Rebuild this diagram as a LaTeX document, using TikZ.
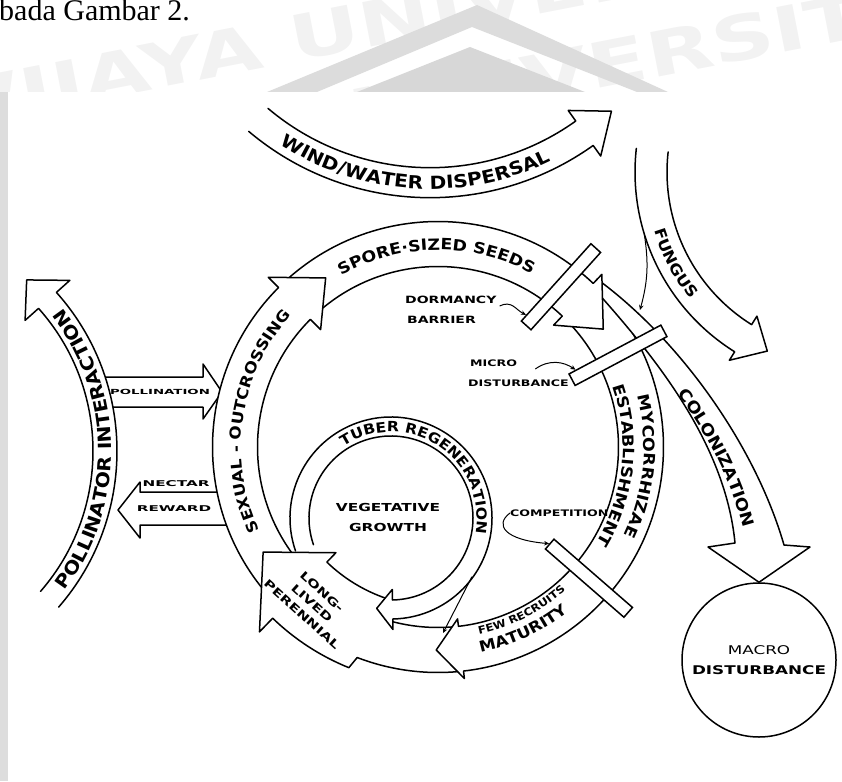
\documentclass[tikz,border=0pt]{standalone}
\usepackage{fontspec}
\setmainfont{Liberation Serif}
\newfontfamily\hand[FakeStretch=1.12]{DejaVu Sans}
\newfontfamily\handsm[FakeStretch=1.4]{DejaVu Sans}
\newfontfamily\handwide[FakeStretch=1.9]{DejaVu Sans}
\usepackage{tikz}
\usetikzlibrary{calc,arrows.meta,decorations.text}
\definecolor{chevc}{HTML}{DCDCDC}
\definecolor{chevd}{HTML}{D7D7D7}
\definecolor{stripc}{HTML}{DDDDDD}
\definecolor{wmarkc}{HTML}{F2F2F2}
\tikzset{
  bandline/.style={line width=1.5pt,line join=round,line cap=round},
  barrier/.style={draw,line width=1.5pt,fill=white,rectangle,minimum width=104pt,minimum height=13pt,inner sep=0pt},
  pointer/.style={-{Stealth[length=5pt,width=4.5pt]},line width=1pt},
  lbl/.style={inner sep=0pt,font=\handsm\bfseries\fontsize{10}{10}\selectfont},
  widelbl/.style={inner sep=0pt,font=\handwide\bfseries\fontsize{8}{8}\selectfont},
  wmark/.style={text=wmarkc,inner sep=0pt,font=\handsm\bfseries\fontsize{62}{62}\selectfont}
}
% curved band: centre, radius, half width, from, to
\newcommand{\bandshaft}[5]{%
  \fill[white] ([shift={(#1)}]#4:{#2+#3}) arc[start angle=#4,end angle=#5,radius={#2+#3}]
    -- ([shift={(#1)}]#5:{#2-#3}) arc[start angle=#5,end angle=#4,radius={#2-#3}] -- cycle;
  \draw[bandline] ([shift={(#1)}]#4:{#2+#3}) arc[start angle=#4,end angle=#5,radius={#2+#3}];
  \draw[bandline] ([shift={(#1)}]#4:{#2-#3}) arc[start angle=#4,end angle=#5,radius={#2-#3}];}
% head: centre, radius, half width, base, tip, head half width
\newcommand{\bandhead}[6]{%
  \filldraw[bandline,fill=white] ([shift={(#1)}]#4:{#2+#3}) -- ([shift={(#1)}]#4:{#2+#6})
    -- ([shift={(#1)}]#5:#2) -- ([shift={(#1)}]#4:{#2-#6}) -- ([shift={(#1)}]#4:{#2-#3});}
% lettering on an arc: centre, radius, from, to, size, text
\newcommand{\arctext}[6]{%
  \path[decorate,decoration={text along path,text align=center,
    text={|\hand\bfseries\fontsize{#5}{#5}\selectfont|#6}}]
    ([shift={(#1)}]#3:#2) arc[start angle=#3,end angle=#4,radius=#2];}

\begin{document}
\begin{tikzpicture}[x=1pt,y=1pt]
\useasboundingbox (0,0) rectangle (842,-781);
\begin{scope}
  \clip (0,0) rectangle (842,-92);
  \node[wmark,rotate=11] at (330,-38) {BRAWIJAYA UNIVERSITAS};
  \node[wmark,rotate=11] at (390,-112) {BRAWIJAYA UNIVERSITAS};
  \fill[chevc] (267,-92) -- (477,-5) -- (668,-92) -- (637,-92) -- (472,-27) -- (317,-92) -- cycle;
  \fill[chevd] (357,-92) -- (470,-47) -- (585,-92) -- cycle;
\end{scope}
\fill[stripc] (0,-92) rectangle (8,-781);
\node[anchor=base west,inner sep=0pt,font=\fontsize{30}{30}\selectfont] (caption) at (-1,-21) {bada Gambar 2.};

\coordinate (C) at (438,-447);
\coordinate (Cw) at (430,83.3);
\coordinate (Cp) at (-121,-451);
\coordinate (Cf) at (847,-172);
\coordinate (Ct) at (391,-518);

\node[circle,draw,line width=1.5pt,minimum size=154pt,inner sep=0pt,align=center,
  font=\handsm\fontsize{12}{20}\selectfont] (macro) at (759,-660) {MACRO\\\textbf{DISTURBANCE}};

% dispersal and fungus
\bandshaft{Cw}{266}{15}{229.8}{305.5}
\bandhead{Cw}{266}{15}{305.5}{313}{28}
\arctext{Cw}{272.5}{234}{299}{18}{WIND/WATER DISPERSAL}
\bandshaft{Cf}{196}{16}{173.6}{238}
\bandhead{Cf}{196}{16}{238}{246}{26}
\arctext{Cf}{201.5}{196}{220}{15}{FUNGUS}

% pollinator side
\filldraw[bandline,fill=white] (100,-377) -- (203,-377) -- (203,-364) -- (222,-392) -- (203,-419) -- (203,-407) -- (100,-407);
\filldraw[bandline,fill=white] (232,-492) -- (140,-492) -- (140,-482) -- (118,-510) -- (140,-538) -- (140,-525) -- (232,-525);
\node[widelbl,font=\handwide\bfseries\fontsize{7}{7}\selectfont] (polltxt) at (160,-392) {POLLINATION};
\node[widelbl] (nectxt) at (176,-484) {NECTAR};
\node[widelbl] (rewtxt) at (174,-509) {REWARD};
\bandshaft{Cp}{226}{12}{-41}{41.8}
\bandhead{Cp}{226}{12}{41.8}{49.2}{30}
\arctext{Cp}{232.5}{-39}{40}{18}{POLLINATOR INTERACTION}

% life cycle ring
\bandshaft{C}{203}{22.5}{44.5}{-83.5}
\bandshaft{C}{203}{22.5}{133}{46.5}
\bandshaft{C}{203}{22.5}{222}{135}
\fill[white] ([shift={(C)}]275.5:225.5) arc[start angle=275.5,end angle=249,radius=225.5]
  -- ([shift={(C)}]248:238) arc[start angle=248,end angle=226,radius=238]
  -- ([shift={(C)}]226:160) arc[start angle=226,end angle=251,radius=160]
  -- ([shift={(C)}]253:180.5) arc[start angle=253,end angle=275.5,radius=180.5] -- cycle;
\draw[bandline] ([shift={(C)}]275.5:225.5) arc[start angle=275.5,end angle=249,radius=225.5]
  -- ([shift={(C)}]248:238) arc[start angle=248,end angle=226,radius=238];
\draw[bandline] ([shift={(C)}]275.5:180.5) arc[start angle=275.5,end angle=253,radius=180.5]
  -- ([shift={(C)}]251:160) arc[start angle=251,end angle=226,radius=160];
\filldraw[bandline,fill=white] (597,-292) .. controls (650,-352) and (725,-440) .. (735,-543)
  -- (708,-547) -- (macro.north) -- (810,-547) -- (784,-545)
  .. controls (755,-445) and (680,-340) .. (597,-279);
\bandhead{C}{203}{22.5}{135}{123.6}{37}
\bandhead{C}{203}{22.5}{46.5}{35.5}{35}
\filldraw[bandline,fill=white] ([shift={(C)}]226:238) -- ([shift={(C)}]226:257) -- ([shift={(C)}]211:204)
  -- ([shift={(C)}]226:147) -- ([shift={(C)}]226:160);
\bandhead{C}{203}{22.5}{-83.5}{-90.5}{30}

% tuber ring
\bandshaft{Ct}{91.5}{9.5}{199}{-89}
\bandhead{Ct}{91.5}{9.5}{-89}{-99}{20}

% barriers
\node[barrier,rotate=48] (dormbar) at ([shift={(C)}]52.5:202) {};
\node[barrier,rotate=28] (microbar) at ([shift={(C)}]27:202) {};
\node[barrier,rotate=-41] (compbar) at ([shift={(C)}]-41:200) {};

% lettering
\arctext{C}{197}{121}{60}{15.5}{SPORE·SIZED SEEDS}
\arctext{C}{197}{206}{137}{15}{SEXUAL - OUTCROSSING}
\arctext{C}{206}{17}{-28}{15.5}{MYCORRHIZAE}
\arctext{C}{185}{21}{-33}{15.5}{ESTABLISHMENT}
\arctext{C}{192}{-83}{-43}{10.5}{FEW RECRUITS}
\arctext{C}{210}{-80}{-50}{15}{MATURITY}
\arctext{Ct}{86}{135}{-22}{14}{TUBER REGENERATION}
\path[decorate,decoration={text along path,text align=center,raise=-6pt,
  text={|\hand\bfseries\fontsize{16}{16}\selectfont|COLONIZATION}}]
  (655,-355) .. controls (705,-415) and (745,-480) .. (758,-570);
\node[lbl,align=center,font=\handsm\bfseries\fontsize{11}{20}\selectfont] (veg) at (388,-517) {VEGETATIVE\\GROWTH};
\node[lbl,align=center,rotate=-42,font=\handsm\bfseries\fontsize{11}{15}\selectfont] (lltxt) at (312,-603) {LONG-\\LIVED\\PERENNIAL};

% small labels and pointers
\node[lbl,anchor=west] (dormtxt) at (405,-300) {DORMANCY};
\node[lbl,anchor=west] (barrtxt) at (407,-320) {BARRIER};
\node[lbl,anchor=west,font=\handsm\bfseries\fontsize{9}{9}\selectfont] (microtxt) at (470,-363) {MICRO};
\node[lbl,anchor=west,font=\handsm\bfseries\fontsize{9}{9}\selectfont] (disttxt) at (468,-383) {DISTURBANCE};
\node[lbl,anchor=west,font=\handsm\bfseries\fontsize{9}{9}\selectfont] (comptxt) at (510,-513) {COMPETITION};
\draw[pointer] ([shift={(3pt,-6pt)}]dormtxt.east) .. controls +(12,6) and +(-10,5) .. ($(dormbar.north west)!0.08!(dormbar.north east)$);
\draw[pointer] ([shift={(18pt,-6pt)}]microtxt.east) .. controls +(14,10) and +(-12,8) .. ($(microbar.north west)!0.08!(microbar.north east)$);
\draw[pointer] (comptxt.west) .. controls (494,-525) and (505,-540) .. (compbar.west);
\coordinate (fgfoot) at ([shift={(Cf)}]197:212);
\coordinate (fgtip) at (640,-310);
\draw[pointer] (fgfoot) to[bend left=12] (fgtip);
\coordinate (tbfoot) at ([shift={(Ct)}]-36:100);
\coordinate (matin) at (443,-633);
\draw[pointer] (tbfoot) -- (matin);
\end{tikzpicture}
\end{document}
